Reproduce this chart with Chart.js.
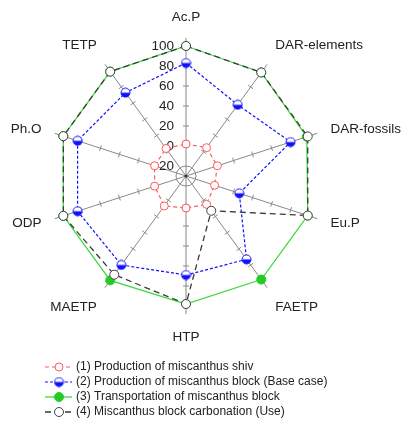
<!DOCTYPE html>
<html>
<head>
<meta charset="utf-8">
<script src="https://cdn.jsdelivr.net/npm/chart.js@4"></script>
<style>
  html, body { margin: 0; padding: 0; background: #fff; }
  #wrap { width: 402px; height: 421px; }
</style>
</head>
<body>
<div id="wrap"><canvas id="radar" width="402" height="421"></canvas></div>
<script>
// categories and series
var categories = ['Ac.P', 'DAR-elements', 'DAR-fossils', 'Eu.P', 'FAETP', 'HTP', 'MAETP', 'ODP', 'Ph.O', 'TETP'];
var shivProduction = [2, 5, 3, 0, 5, 2, 7, 3, 3, 4];
var blockProduction = [83, 58, 80, 26, 73, 69, 80, 84, 84, 73];
var blockTransport = [100, 98, 97, 98, 98, 98, 99, 99, 99, 99];
var blockCarbonation = [100, 98, 98, 98, 13, 98, 92, 99, 99, 99];
var tickValues = [100, 80, 60, 40, 20, 0, -20];
var tickLabels = ['100', '80', '60', '40', '20', '0', '-20'];
var seriesNames = [
    '(1) Production of miscanthus shiv',
    '(2) Production of miscanthus block (Base case)',
    '(3) Transportation of miscanthus block',
    '(4) Miscanthus block carbonation (Use)'
];

var FONT = '12px "Liberation Sans", Arial, sans-serif';
var AXIS_FONT = '13.5px "Liberation Sans", Arial, sans-serif';
var RED = '#ff5a5a', BLUE = '#1010ff', GREEN = '#3fd83f', DARK = '#3a3a3a';

// half filled marker (white top, blue bottom)
function halfMarker(r) {
    var c = document.createElement('canvas');
    var s = Math.ceil(r * 2 + 2);
    c.width = s; c.height = s;
    var g = c.getContext('2d');
    var m = s / 2;
    g.beginPath(); g.arc(m, m, r, 0, Math.PI * 2); g.fillStyle = '#fff'; g.fill();
    g.beginPath(); g.arc(m, m, r, 0, Math.PI); g.closePath(); g.fillStyle = BLUE; g.fill();
    g.beginPath(); g.arc(m, m, r, 0, Math.PI * 2); g.strokeStyle = BLUE; g.lineWidth = 1; g.stroke();
    return c;
}
var blueMark = halfMarker(4.5);

var labelOffsets = [-7, -8, 0, 0, 8, 9, 8, 0, 0, -8];

var decorations = {
    id: 'decorations',
    beforeDatasetsDraw: function(chart) {
        var sc = chart.scales.r, ctx = chart.ctx;
        var cx = sc.xCenter, cy = sc.yCenter;
        ctx.save();
        ctx.strokeStyle = '#888';
        ctx.lineWidth = 1;
        // tick marks across every spoke
        for (var i = 0; i < categories.length; i++) {
            var a = sc.getIndexAngle(i) - Math.PI / 2;
            var px = -Math.sin(a), py = Math.cos(a);
            for (var v = 0; v <= 100; v += 20) {
                var d = sc.getDistanceFromCenterForValue(v);
                var x = cx + Math.cos(a) * d, y = cy + Math.sin(a) * d;
                ctx.beginPath();
                ctx.moveTo(x - px * 3, y - py * 3);
                ctx.lineTo(x + px * 3, y + py * 3);
                ctx.stroke();
            }
        }
        // inner circle at -20
        ctx.beginPath();
        ctx.arc(cx, cy, sc.getDistanceFromCenterForValue(-20), 0, Math.PI * 2);
        ctx.stroke();
        ctx.fillStyle = '#333';
        ctx.beginPath(); ctx.arc(cx, cy, 1.5, 0, Math.PI * 2); ctx.fill();

        // tick labels to the left of the top spoke
        ctx.fillStyle = '#222';
        ctx.font = AXIS_FONT;
        ctx.textAlign = 'right';
        ctx.textBaseline = 'middle';
        tickValues.forEach(function(v, k) {
            ctx.fillText(tickLabels[k], cx - 12, cy - sc.getDistanceFromCenterForValue(v));
        });

        // category labels
        categories.forEach(function(name, k) {
            var p = sc.getPointPosition(k, 152);
            ctx.textAlign = (k === 0 || k === 5) ? 'center' : (k < 5 ? 'left' : 'right');
            ctx.fillText(name, p.x, p.y + labelOffsets[k]);
        });
        ctx.restore();
    },
    afterDraw: function(chart) {
        var ctx = chart.ctx;
        ctx.save();
        ctx.font = FONT;
        ctx.textAlign = 'left';
        ctx.textBaseline = 'middle';
        chart.data.datasets.forEach(function(ds, k) {
            var y = 367 + k * 15;
            ctx.beginPath();
            ctx.setLineDash(ds.borderDash || []);
            ctx.strokeStyle = ds.borderColor;
            ctx.lineWidth = ds.borderWidth;
            ctx.moveTo(45, y); ctx.lineTo(72, y);
            ctx.stroke();
            ctx.setLineDash([]);
            if (ds.pointStyle === blueMark) {
                ctx.drawImage(blueMark, 59 - blueMark.width / 2, y - blueMark.height / 2);
            } else {
                ctx.beginPath();
                ctx.arc(59, y, ds.pointRadius, 0, Math.PI * 2);
                ctx.fillStyle = ds.pointBackgroundColor;
                ctx.fill();
                ctx.strokeStyle = ds.pointBorderColor;
                ctx.lineWidth = 1;
                ctx.stroke();
            }
            ctx.fillStyle = '#222';
            ctx.fillText(seriesNames[k], 76, y);
        });
        ctx.restore();
    }
};

new Chart(document.getElementById('radar'), {
    type: 'radar',
    data: {
        labels: categories,
        datasets: [{
            label: seriesNames[0],
            data: shivProduction,
            borderColor: RED,
            borderWidth: 1.2,
            borderDash: [4, 3],
            pointStyle: 'circle',
            pointRadius: 4,
            pointBackgroundColor: '#fff',
            pointBorderColor: RED,
            pointBorderWidth: 1,
            fill: false,
            order: 1
        }, {
            label: seriesNames[1],
            data: blockProduction,
            borderColor: BLUE,
            borderWidth: 1.2,
            borderDash: [3, 2],
            pointStyle: blueMark,
            pointRadius: 4.5,
            fill: false,
            order: 2
        }, {
            label: seriesNames[2],
            data: blockTransport,
            borderColor: GREEN,
            borderWidth: 1.3,
            pointStyle: 'circle',
            pointRadius: 4.5,
            pointBackgroundColor: '#22cc22',
            pointBorderColor: '#22cc22',
            pointBorderWidth: 1,
            fill: false,
            order: 3
        }, {
            label: seriesNames[3],
            data: blockCarbonation,
            borderColor: DARK,
            borderWidth: 1.3,
            borderDash: [6, 4],
            pointStyle: 'circle',
            pointRadius: 4.5,
            pointBackgroundColor: '#fff',
            pointBorderColor: '#444',
            pointBorderWidth: 1,
            fill: false,
            order: 0
        }]
    },
    options: {
        responsive: false,
        animation: false,
        layout: { padding: { left: 48, top: 38, right: 78, bottom: 107 } },
        elements: { line: { tension: 0 } },
        plugins: { legend: { display: false }, tooltip: { enabled: false } },
        scales: {
            r: {
                min: -30,
                max: 108,
                ticks: { display: false, stepSize: 20 },
                grid: { display: false },
                angleLines: { color: '#888', lineWidth: 1 },
                pointLabels: { display: false }
            }
        }
    },
    plugins: [decorations]
});
</script>
</body>
</html>
